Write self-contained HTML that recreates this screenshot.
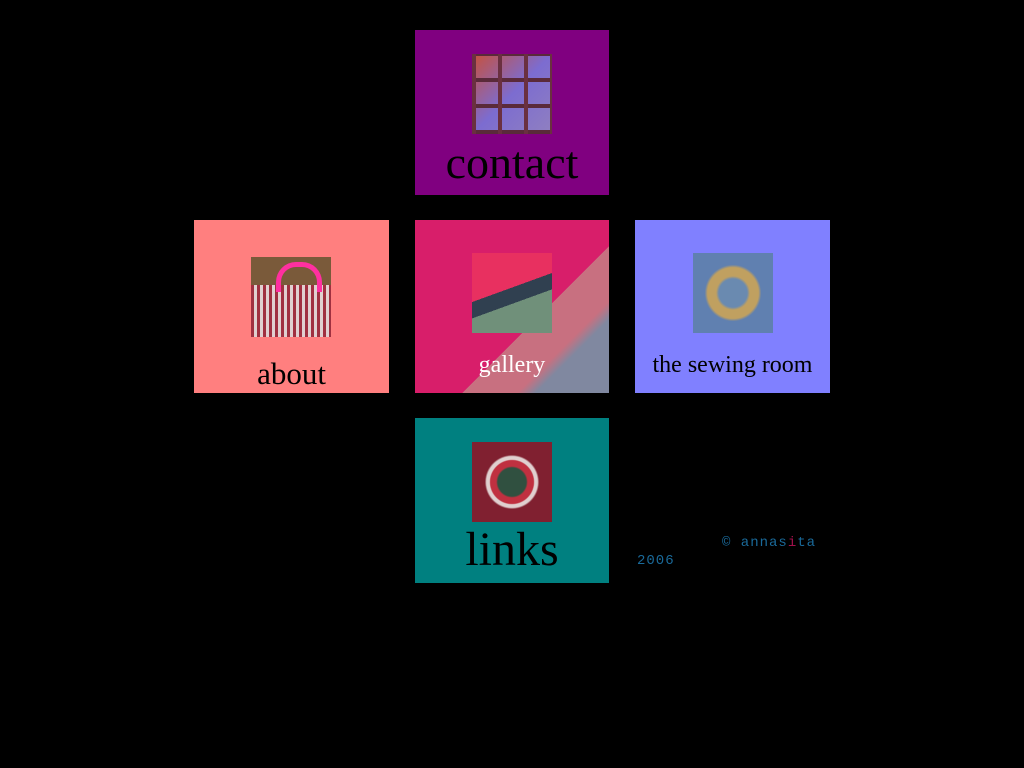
<!DOCTYPE html>
<html><head><meta charset="utf-8"><style>
html,body{margin:0;padding:0;background:#000;width:1024px;height:768px;overflow:hidden}
.t{position:absolute;font-family:"Liberation Serif",serif;color:#000;text-align:center}
.img{position:absolute;width:80px;height:80px}
.lbl{position:absolute;left:0;width:100%;text-align:center;line-height:1}
</style></head><body>
<div class="t" style="left:415px;top:30px;width:194px;height:165px;background:#800080">
 <div class="img" style="left:57px;top:24px;background:repeating-linear-gradient(90deg,#6a3040 0 4px,transparent 4px 26px),repeating-linear-gradient(0deg,#5a2a3a 0 4px,transparent 4px 26px),linear-gradient(135deg,#c8503a,#7c6cd0 50%,#9080c0)"></div>
 <div class="lbl" style="top:110px;font-size:46px">contact</div>
</div>
<div class="t" style="left:194px;top:220px;width:195px;height:173px;background:#ff7f7f">
 <div class="img" style="left:57px;top:37px;background:linear-gradient(#7a5a3a 0 35%,transparent 35%),repeating-linear-gradient(90deg,#a03040 0 3px,#e0d0d0 3px 6px),#8a6a4a"></div>
 <div style="position:absolute;left:82px;top:42px;width:46px;height:30px;border:5px solid #ff30a0;border-bottom:none;border-radius:20px 20px 0 0;box-sizing:border-box"></div>
 <div class="lbl" style="top:138px;font-size:31px">about</div>
</div>
<div class="t" style="left:415px;top:220px;width:194px;height:173px;background:linear-gradient(135deg,#d81e6a 0 60%,#c87080 60% 75%,#8088a0 80%)">
 <div class="img" style="left:57px;top:33px;background:linear-gradient(160deg,#e83060 0 45%,#304050 45% 60%,#70907a 60%)"></div>
 <div class="lbl" style="top:133px;font-size:24px;color:#fff">gallery</div>
</div>
<div class="t" style="left:635px;top:220px;width:195px;height:173px;background:#8080ff">
 <div class="img" style="left:58px;top:33px;background:radial-gradient(circle,#6a8ab0 0 25%,#c0a060 30% 45%,#6080b0 50%)"></div>
 <div class="lbl" style="top:133px;font-size:24px">the sewing room</div>
</div>
<div class="t" style="left:415px;top:418px;width:194px;height:165px;background:#008080">
 <div class="img" style="left:57px;top:24px;background:radial-gradient(circle,#305040 0 25%,#c03040 28% 38%,#e0d0d0 40% 45%,#802030 48%)"></div>
 <div class="lbl" style="top:108px;font-size:48px">links</div>
</div>
<div style="position:absolute;left:637px;top:534px;width:190px;font-family:'Liberation Mono',monospace;font-size:14px;line-height:18px;color:#1a6a9a;letter-spacing:1px">
<span style="padding-left:85px">© annas<span style="color:#a0104a">i</span>ta</span><br>2006</div>
</body></html>
